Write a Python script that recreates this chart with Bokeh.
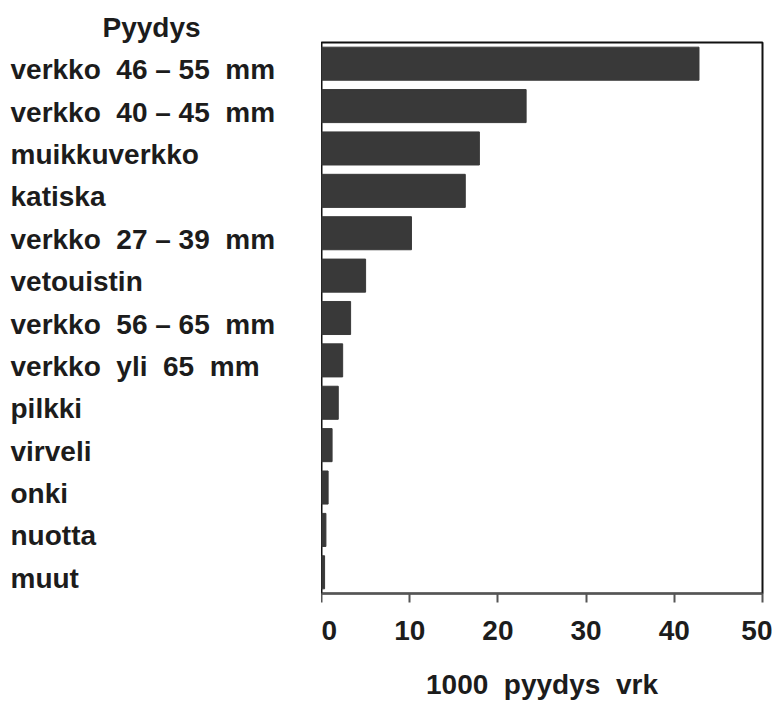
from bokeh.plotting import figure
from bokeh.layouts import row
from bokeh.models import Range1d, FactorRange, FixedTicker
from bokeh.core.properties import value
from bokeh.embed import file_html
from bokeh.resources import INLINE

NB = "\u00a0"

# ---- data ----
header = "Pyydys"
categories = [
    f"verkko{NB} 46 – 55{NB} mm",
    f"verkko{NB} 40 – 45{NB} mm",
    "muikkuverkko",
    "katiska",
    f"verkko{NB} 27 – 39{NB} mm",
    "vetouistin",
    f"verkko{NB} 56 – 65{NB} mm",
    f"verkko{NB} yli{NB} 65{NB} mm",
    "pilkki",
    "virveli",
    "onki",
    "nuotta",
    "muut",
]
values = [42.8, 23.2, 17.9, 16.3, 10.2, 5.0, 3.3, 2.4, 1.9, 1.2, 0.75, 0.5, 0.35]
x_ticks = [0, 10, 20, 30, 40, 50]
x_label = f"1000{NB} pyydys{NB} vrk"

FONT = value("Liberation Sans")
TXT = "#1c1c1c"
BAR = "#393939"

H = 703
TOP = 42
BOTTOM = 110

y_range = FactorRange(factors=categories[::-1])

# ---- left panel: category labels ----
left = figure(width=321, height=H, x_range=Range1d(0, 321), y_range=y_range,
              output_backend="svg", toolbar_location=None,
              min_border_left=0, min_border_right=0,
              min_border_top=TOP, min_border_bottom=BOTTOM,
              x_axis_location=None, y_axis_location=None)
left.outline_line_color = None
left.grid.visible = False
left.text(x=10, y=categories, text=categories, text_font=FONT, text_font_size="28px",
          text_font_style="bold", text_color=TXT, text_align="left",
          text_baseline="middle", y_offset=6)
left.title.text = header
left.title.align = "left"
left.title.offset = 102
left.title.standoff = 0
left.title.text_font = "Liberation Sans"
left.title.text_font_size = "28px"
left.title.text_font_style = "bold"
left.title.text_color = TXT

# ---- right panel: bars ----
p = figure(width=451, height=H, x_range=Range1d(0, 50), y_range=y_range,
           output_backend="svg", toolbar_location=None,
           min_border_left=0, min_border_right=10,
           min_border_top=TOP, min_border_bottom=BOTTOM,
           y_axis_location=None)
p.hbar(y=categories, left=0, right=values, height=0.78,
       fill_color=BAR, line_color=BAR)
p.grid.visible = False
p.outline_line_color = "#111111"
p.outline_line_width = 2

ax = p.xaxis[0]
ax.ticker = FixedTicker(ticks=x_ticks)
ax.minor_tick_line_color = None
ax.major_tick_in = 0
ax.major_tick_out = 9
ax.major_tick_line_color = "#555555"
ax.major_tick_line_width = 2
ax.axis_line_color = "#555555"
ax.axis_line_width = 2
ax.major_label_text_font = "Liberation Sans"
ax.major_label_text_font_size = "28px"
ax.major_label_text_font_style = "bold"
ax.major_label_text_color = TXT
ax.major_label_standoff = 18
ax.axis_label = x_label
ax.axis_label_text_font = "Liberation Sans"
ax.axis_label_text_font_size = "28px"
ax.axis_label_text_font_style = "bold"
ax.axis_label_text_color = TXT
ax.axis_label_standoff = 26

layout = row(left, p, spacing=0)
open("out.html", "w").write(file_html(layout, INLINE))
